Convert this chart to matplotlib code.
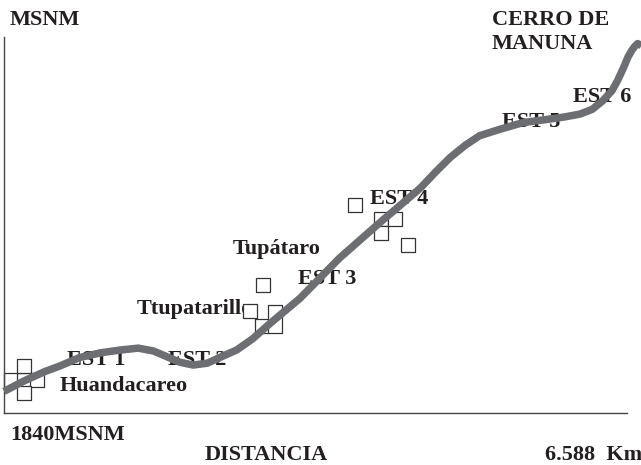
import numpy as np
import matplotlib

matplotlib.use("Agg")
import matplotlib.pyplot as plt

# profile of the route: distance (km) vs altitude (m)
dist_km = [0.00, 0.21, 0.43, 0.59, 0.80, 1.02, 1.23, 1.42, 1.58, 1.72, 1.86, 2.00,
           2.15, 2.28, 2.46, 2.63, 2.81, 3.13, 3.55, 3.98, 4.40, 4.56, 4.72, 4.88,
           5.03, 5.25, 5.49, 5.72, 5.93, 6.09, 6.22, 6.33, 6.43, 6.49, 6.55, 6.60,
           6.64, 6.67, 6.70, 6.74]
alt_m = [1863, 1874, 1884, 1890, 1899, 1904, 1907, 1909, 1906, 1900, 1894, 1891,
         1893, 1899, 1907, 1919, 1935, 1962, 2005, 2043, 2079, 2096, 2112, 2125,
         2135, 2142, 2149, 2152, 2155, 2158, 2163, 2172, 2183, 2194, 2207, 2219,
         2226, 2230, 2233, 2231]

# square markers (towns / houses)
sq_km = [0.07, 0.21, 0.35, 0.21, 0.21,
         2.74, 2.60, 2.73,
         3.71, 3.99, 4.13, 3.99, 4.27]
sq_m = [1875, 1875, 1875, 1890, 1861,
        1976, 1948, 1933,
        2061, 2046, 2046, 2032, 2019]
tall_km = [2.87]
tall_m = [1940]

# labels: text, left x px, baseline y px
labels = [
    ("MSNM", 10, 25),
    ("CERRO DE", 492, 25),
    ("MANUNA", 492, 49),
    ("EST 6", 573, 102),
    ("EST 5", 502, 127),
    ("EST 4", 370, 204),
    ("Tupátaro", 233, 254),
    ("EST 3", 298, 284),
    ("Ttupatarillo", 137, 314),
    ("EST 1", 67, 365),
    ("EST 2", 168, 365),
    ("Huandacareo", 60, 391),
    ("1840MSNM", 10, 440),
    ("DISTANCIA", 205, 460),
    ("6.588  Km", 545, 460),
]

W, H = 641, 465
fig = plt.figure(figsize=(W / 100, H / 100), dpi=100)
ax = fig.add_axes([4 / W, 1 - 413 / H, 623 / W, 376 / H])
ax.set_xlim(0, 6.588)
ax.set_ylim(1840, 2240)
ax.set_xticks([])
ax.set_yticks([])
for s in ["top", "right"]:
    ax.spines[s].set_visible(False)
for s in ["left", "bottom"]:
    ax.spines[s].set_color("#444444")
    ax.spines[s].set_linewidth(1.0)

ink = "#231f20"
for txt, px, py in labels:
    ax.text(px / W, 1 - py / H, txt, transform=fig.transFigure,
            ha="left", va="baseline", fontsize=16, fontweight="bold",
            family="Liberation Serif", color=ink, zorder=2)

ax.scatter(sq_km, sq_m, marker="s", s=96, facecolor="white",
           edgecolor="#333333", linewidth=0.9, zorder=2.5, clip_on=False)
tall = [(-0.25, -0.5), (0.25, -0.5), (0.25, 0.5), (-0.25, 0.5), (-0.25, -0.5)]
ax.scatter(tall_km, tall_m, marker=tall, s=400, facecolor="white",
           edgecolor="#333333", linewidth=0.9, zorder=2.5, clip_on=False)

ax.plot(dist_km, alt_m, color="#6d6e71", linewidth=5.4,
        solid_capstyle="butt", solid_joinstyle="round", zorder=3, clip_on=False)

fig.savefig("out.png", dpi=100)
